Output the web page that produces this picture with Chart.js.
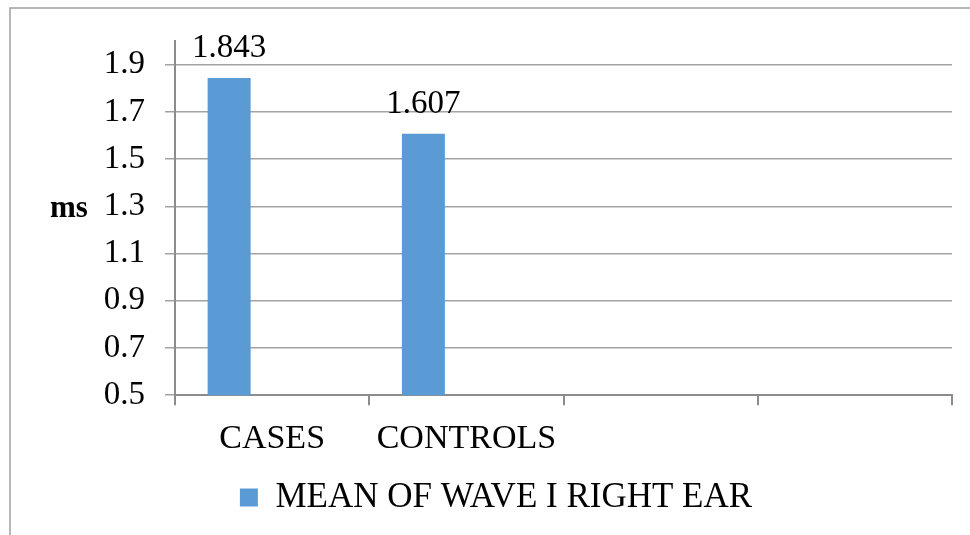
<!DOCTYPE html>
<html>
<head>
<meta charset="utf-8">
<script src="https://cdn.jsdelivr.net/npm/chart.js@4.4.1/dist/chart.umd.min.js"></script>
<style>
    html, body { margin: 0; padding: 0; background: #fff; }
    .chart-container { position: relative; width: 970px; height: 535px; }
</style>
</head>
<body>
<div class="chart-container">
    <canvas id="chart"></canvas>
</div>
<script>
// values
const categories = ['CASES', 'CONTROLS', '', ''];
const waveIRight = [1.843, 1.607, null, null];
const seriesName = 'MEAN OF WAVE I RIGHT EAR';
// excel chart has two more (empty) series next to the visible one
const emptySeries2 = [null, null, null, null];
const emptySeries3 = [null, null, null, null];
const yTicks = [0.5, 0.7, 0.9, 1.1, 1.3, 1.5, 1.7, 1.9];
const yUnit = 'ms';

const FONT = "'Liberation Serif', 'Times New Roman', serif";
const GRID = '#a3a3a3';
const AXIS = '#8c8c8c';

// outer frame + "ms" label + value labels on top of bars
const extras = {
    id: 'extras',
    beforeDraw(chart) {
        const ctx = chart.ctx;
        ctx.save();
        ctx.strokeStyle = '#a0a0a0';
        ctx.lineWidth = 1.5;
        ctx.beginPath();
        ctx.moveTo(10, chart.height);
        ctx.lineTo(10, 8);
        ctx.lineTo(chart.width, 8);
        ctx.stroke();
        ctx.restore();
    },
    afterDatasetsDraw(chart) {
        const ctx = chart.ctx;
        ctx.save();
        ctx.fillStyle = '#000';
        ctx.font = '33px ' + FONT;
        ctx.textAlign = 'center';
        ctx.textBaseline = 'alphabetic';
        const meta = chart.getDatasetMeta(0);
        meta.data.forEach((bar, i) => {
            const v = chart.data.datasets[0].data[i];
            if (v == null) return;
            ctx.fillText(v.toFixed(3), bar.x, bar.y - 21);
        });
        // axis unit, horizontal, left of the tick labels
        const y = chart.scales.y;
        ctx.font = 'bold 31px ' + FONT;
        ctx.textAlign = 'left';
        ctx.fillText(yUnit, 50, y.getPixelForValue(1.3) + 11);
        ctx.restore();
    }
};

new Chart(document.getElementById('chart'), {
    type: 'bar',
    data: {
        labels: categories,
        datasets: [
            { label: seriesName, data: waveIRight, backgroundColor: '#5b9bd5', borderWidth: 0 },
            { label: '', data: emptySeries2, backgroundColor: '#ed7d31' },
            { label: '', data: emptySeries3, backgroundColor: '#a5a5a5' }
        ]
    },
    options: {
        responsive: true,
        maintainAspectRatio: false,
        animation: false,
        layout: { padding: { left: 40, right: 18, top: 41, bottom: 10 } },
        datasets: {
            bar: { categoryPercentage: 0.664, barPercentage: 1.0 }
        },
        scales: {
            x: {
                grid: { offset: true, drawOnChartArea: false, drawTicks: true, tickLength: 10, color: AXIS, lineWidth: 2 },
                border: { display: true, color: AXIS, width: 2 },
                ticks: { color: '#000', font: { family: FONT, size: 34 }, padding: 13, maxRotation: 0, autoSkip: false }
            },
            y: {
                min: 0.5,
                max: 2.0,
                afterBuildTicks: (axis) => {
                    axis.ticks = yTicks.map(v => ({ value: v }));
                },
                afterFit: (axis) => { axis.width = 135; },
                grid: { color: GRID, lineWidth: 1.5, tickLength: 10, drawTicks: true },
                border: { display: true, color: AXIS, width: 2 },
                ticks: {
                    color: '#000',
                    font: { family: FONT, size: 33 },
                    padding: 20,
                    callback: (v) => Number(v).toFixed(1)
                }
            }
        },
        plugins: {
            tooltip: { enabled: false },
            legend: {
                position: 'bottom',
                labels: {
                    filter: (item) => item.text !== '',
                    color: '#000',
                    font: { family: FONT, size: 35 },
                    boxWidth: 18,
                    boxHeight: 18,
                    padding: 8
                }
            }
        }
    },
    plugins: [extras]
});
</script>
</body>
</html>
